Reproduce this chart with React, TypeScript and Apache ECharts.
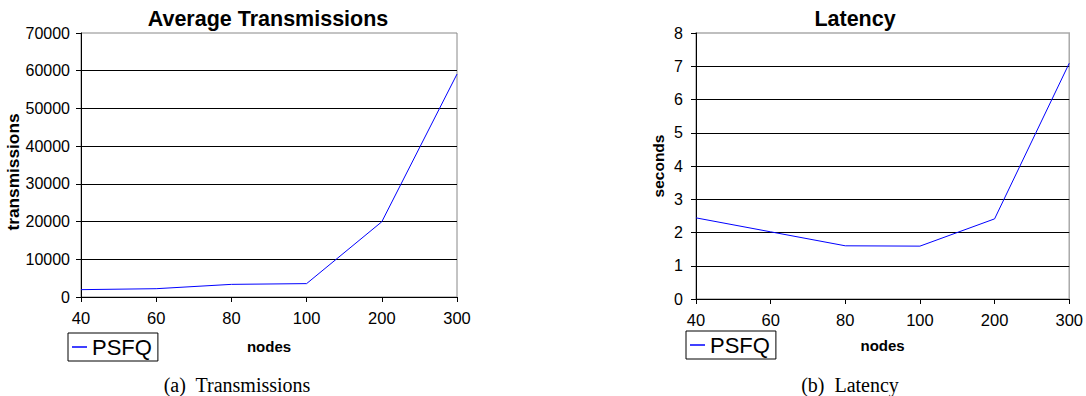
import React, { useEffect, useRef } from "react";
import * as echarts from "echarts";

const nodes = ["40", "60", "80", "100", "200", "300"];
const transmissions = [1950, 2200, 3350, 3550, 19950, 59100];
const latency = [2.44, 2.02, 1.6, 1.59, 2.41, 7.09];
const seriesName = "PSFQ";

const FONT = "Arial, 'Liberation Sans', Helvetica, sans-serif";

export default function App() {
  const ref = useRef<HTMLDivElement>(null);
  useEffect(() => {
    if (!ref.current) return;
    const chart = echarts.init(ref.current, undefined, { renderer: "svg" });
    const xAxisBase = (gridIndex: number, gap: number) => ({
      type: "category" as const,
      gridIndex,
      data: nodes,
      boundaryGap: false,
      name: "nodes",
      nameLocation: "middle" as const,
      nameGap: gap,
      nameTextStyle: { fontFamily: FONT, fontWeight: "bold", fontSize: 15, color: "#000" },
      axisLine: { lineStyle: { color: "#000", width: 1 } },
      axisTick: { show: true, length: 5, lineStyle: { color: "#000" } },
      axisLabel: { color: "#000", fontFamily: FONT, fontSize: 16.5, margin: 12 },
      splitLine: { show: false },
    });
    const yAxisBase = (gridIndex: number) => ({
      type: "value" as const,
      gridIndex,
      nameLocation: "middle" as const,
      nameRotate: 90,
      axisLine: { show: true, lineStyle: { color: "#000", width: 1 } },
      axisTick: { show: true, length: 5, lineStyle: { color: "#000" } },
      splitLine: { show: true, showMaxLine: false, lineStyle: { color: "#000", width: 1 } },
    });
    const legendBase = {
      data: [seriesName],
      orient: "horizontal" as const,
      icon: "rect",
      itemWidth: 15,
      itemHeight: 1.5,
      itemGap: 5,
      padding: [3, 6, 3, 4],
      borderColor: "#000",
      borderWidth: 1,
      textStyle: { fontFamily: FONT, fontSize: 22, color: "#000" },
    };
    chart.setOption({
      animation: false,
      backgroundColor: "#fff",
      title: [
        {
          text: "Average Transmissions",
          left: 263,
          top: 3,
          textAlign: "center",
          textStyle: { fontFamily: FONT, fontWeight: "bold", fontSize: 21.5, color: "#000" },
        },
        {
          text: "Latency",
          left: 850,
          top: 3,
          textAlign: "center",
          textStyle: { fontFamily: FONT, fontWeight: "bold", fontSize: 21.5, color: "#000" },
        },
      ],
      legend: [
        { ...legendBase, left: 68, top: 333 },
        { ...legendBase, left: 686, top: 331 },
      ],
      grid: [
        { left: 81, top: 33, width: 376, height: 264, show: true, borderColor: "#888", borderWidth: 1, backgroundColor: "transparent" },
        { left: 696, top: 33, width: 375, height: 266, show: true, borderColor: "#aaa", borderWidth: 1.5, backgroundColor: "transparent" },
      ],
      xAxis: [xAxisBase(0, 42), xAxisBase(1, 39)],
      yAxis: [
        {
          ...yAxisBase(0),
          min: 0,
          max: 70000,
          interval: 10000,
          name: "transmissions",
          nameGap: 53,
          nameTextStyle: { fontFamily: FONT, fontWeight: "bold", fontSize: 17.3, color: "#000", padding: [0, 14, 0, 0] },
          axisLabel: { color: "#000", fontFamily: FONT, fontSize: 16, margin: 11, formatter: (v: number) => String(v) },
        },
        {
          ...yAxisBase(1),
          min: 0,
          max: 8,
          interval: 1,
          name: "seconds",
          nameGap: 30,
          nameTextStyle: { fontFamily: FONT, fontWeight: "bold", fontSize: 15.5, color: "#000" },
          axisLabel: { color: "#000", fontFamily: FONT, fontSize: 16, margin: 13, formatter: (v: number) => String(v) },
        },
      ],
      series: [
        {
          name: seriesName,
          type: "line",
          xAxisIndex: 0,
          yAxisIndex: 0,
          data: transmissions,
          symbol: "none",
          lineStyle: { color: "#0000ff", width: 1 },
          itemStyle: { color: "#0000ff" },
        },
        {
          name: seriesName,
          type: "line",
          xAxisIndex: 1,
          yAxisIndex: 1,
          data: latency,
          symbol: "none",
          lineStyle: { color: "#0000ff", width: 1 },
          itemStyle: { color: "#0000ff" },
        },
      ],
      graphic: [
        {
          type: "text",
          x: 237,
          y: 385,
          style: {
            text: "(a)  Transmissions",
            font: "20px 'Liberation Serif', 'Times New Roman', serif",
            fill: "#000",
            align: "center",
            verticalAlign: "middle",
          },
        },
        {
          type: "text",
          x: 850,
          y: 385,
          style: {
            text: "(b)  Latency",
            font: "20px 'Liberation Serif', 'Times New Roman', serif",
            fill: "#000",
            align: "center",
            verticalAlign: "middle",
          },
        },
      ],
    });
    return () => chart.dispose();
  }, []);
  return (
    <div
      ref={ref}
      style={{ position: "fixed", left: 0, top: 0, width: 1086, height: 396, background: "#fff" }}
    />
  );
}
